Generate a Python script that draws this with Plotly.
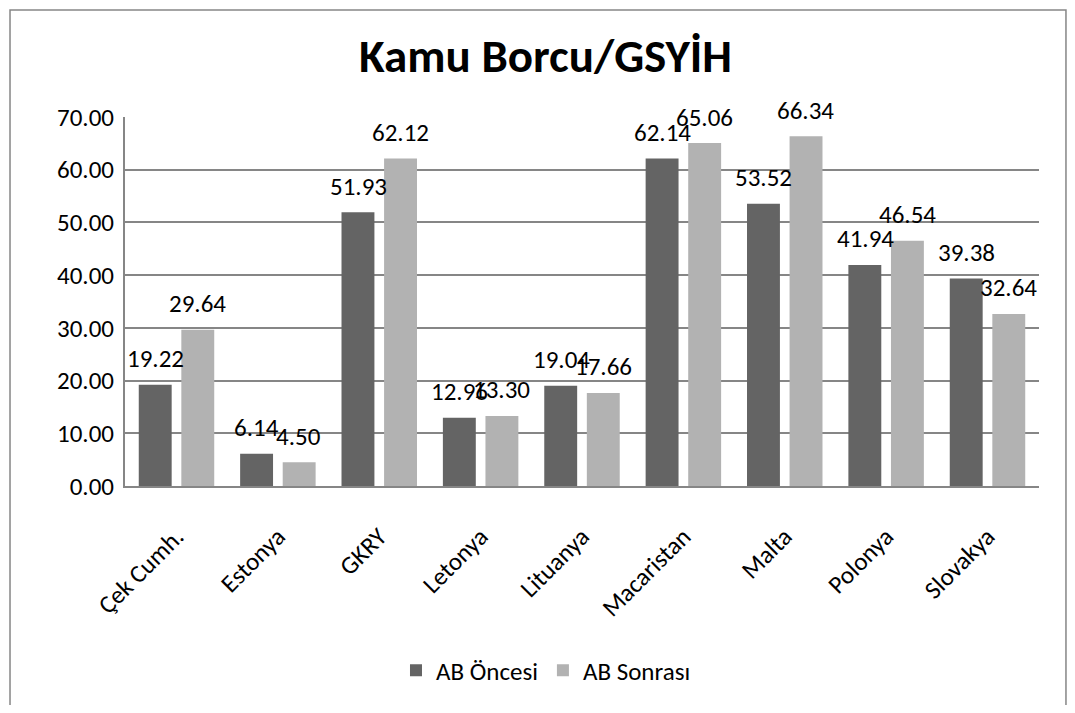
import plotly.graph_objects as go

categories = ["Çek Cumh.", "Estonya", "GKRY", "Letonya", "Lituanya", "Macaristan", "Malta", "Polonya", "Slovakya"]
ab_oncesi = [19.22, 6.14, 51.93, 12.96, 19.04, 62.14, 53.52, 41.94, 39.38]
ab_sonrasi = [29.64, 4.50, 62.12, 13.30, 17.66, 65.06, 66.34, 46.54, 32.64]
series_names = ["AB Öncesi", "AB Sonrası"]
colors = ["#646464", "#B2B2B2"]
y_ticks = [0, 10, 20, 30, 40, 50, 60, 70]

FONT = "Carlito, Lato, 'Open Sans', sans-serif"
FS = 25

fig = go.Figure()
for name, vals, col in zip(series_names, [ab_oncesi, ab_sonrasi], colors):
    fig.add_trace(go.Bar(x=categories, y=vals, name=name, marker=dict(color=col, line=dict(width=0))))

annotations = []
for i, (vals, off) in enumerate([(ab_oncesi, -21), (ab_sonrasi, 21)]):
    for c, v in zip(categories, vals):
        annotations.append(dict(x=c, y=v, xref="x", yref="y", text=f"{v:.2f}", showarrow=False,
                                xshift=off, yshift=26, yanchor="middle",
                                font=dict(family=FONT, size=FS, color="black")))
annotations.append(dict(x=0.4606, y=1.164, xref="paper", yref="paper", text="<b>Kamu Borcu/GSYİH</b>",
                        showarrow=False, font=dict(family=FONT, size=47, color="black"),
                        xanchor="center", yanchor="middle"))

fig.update_layout(
    width=1059, height=697,
    margin=dict(l=117, r=28, t=109, b=216),
    paper_bgcolor="white", plot_bgcolor="white",
    barmode="group", bargap=0.16, bargroupgap=0.227,
    font=dict(family=FONT, size=FS, color="black"),
    showlegend=True,
    legend=dict(orientation="h", x=0.4606, xanchor="center", y=-0.5, yanchor="middle",
                font=dict(family=FONT, size=FS), traceorder="normal"),
    annotations=annotations,
    shapes=[dict(type="rect", xref="paper", yref="paper", x0=-0.1258, x1=1.0295, y0=-0.7, y1=1.2903,
                 line=dict(color="#868686", width=1.5), fillcolor="rgba(0,0,0,0)", layer="below")],
)
fig.update_xaxes(tickangle=-45, showline=True, linecolor="#868686", linewidth=2, ticks="",
                 tickfont=dict(family=FONT, size=FS), showgrid=False, ticklabelstandoff=24)
fig.update_yaxes(range=[0, 70], tickvals=y_ticks, tickformat=".2f", showgrid=True, gridcolor="#868686",
                 gridwidth=1.5, showline=True, linecolor="#868686", linewidth=2, ticks="",
                 tickfont=dict(family=FONT, size=FS), zeroline=False, ticklen=0, ticklabelstandoff=4)

fig.write_html("out.html")
